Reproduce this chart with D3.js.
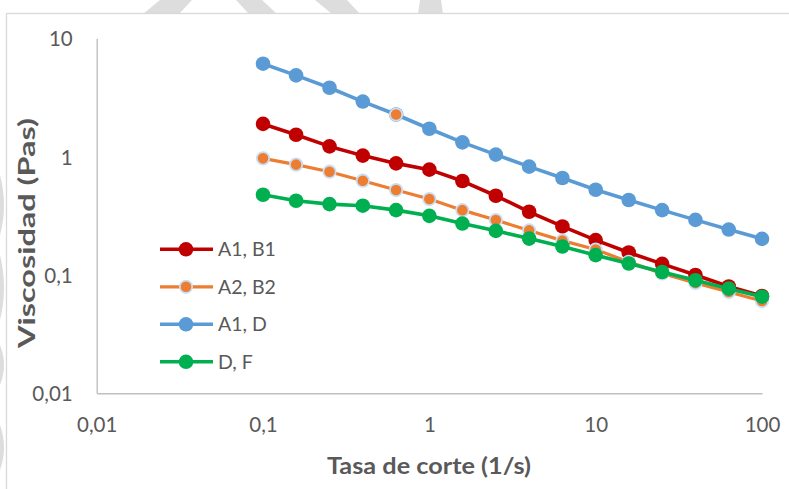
<!DOCTYPE html>
<html>
<head>
<meta charset="utf-8">
<script src="https://cdn.jsdelivr.net/npm/d3@7"></script>
<style>
  html, body { margin: 0; padding: 0; background: #ffffff; }
  svg { display: block; }
</style>
</head>
<body>
<svg id="chart" width="789" height="489"></svg>
<script>
// Shear rate (1/s) sampled five points per decade
const tasaCorte = [0.1, 0.158, 0.251, 0.398, 0.631, 1, 1.58, 2.51, 3.98, 6.31, 10, 15.8, 25.1, 39.8, 63.1, 100];

// Viscosity (Pa·s) for each formulation
const viscA1B1 = [1.89, 1.53, 1.22, 1.02, 0.877, 0.776, 0.622, 0.467, 0.342, 0.257, 0.197, 0.155, 0.124, 0.100, 0.0799, 0.0664];
const viscA2B2 = [0.967, 0.856, 0.746, 0.626, 0.522, 0.438, 0.353, 0.291, 0.238, 0.195, 0.164, 0.129, 0.103, 0.0856, 0.0718, 0.0602];
const viscA1D  = [6.10, 4.86, 3.82, 2.92, 2.27, 1.72, 1.32, 1.04, 0.823, 0.660, 0.525, 0.430, 0.353, 0.292, 0.242, 0.202];
const viscDF   = [0.476, 0.424, 0.397, 0.385, 0.353, 0.316, 0.272, 0.236, 0.203, 0.174, 0.147, 0.125, 0.106, 0.0902, 0.0766, 0.0655];

// A1, D point that carries an orange marker
const resaltadosA1D = [4];

const seriesNombres = ["A1, B1", "A2, B2", "A1, D", "D, F"];

// Axis ticks
const xTicks = [0.01, 0.1, 1, 10, 100];
const xTickLabels = ["0,01", "0,1", "1", "10", "100"];
const yTicks = [0.01, 0.1, 1, 10];
const yTickLabels = ["0,01", "0,1", "1", "10"];

const tituloX = "Tasa de corte (1/s)";
const tituloY = "Viscosidad (Pas)";

const series = [
  { nombre: seriesNombres[0], valores: viscA1B1, color: "#C00000", r: 7.3, ancho: 3.6, borde: null },
  { nombre: seriesNombres[1], valores: viscA2B2, color: "#ED7D31", r: 6.2, ancho: 3.2, borde: "#c9def2" },
  { nombre: seriesNombres[2], valores: viscA1D,  color: "#5B9BD5", r: 7.3, ancho: 3.6, borde: null },
  { nombre: seriesNombres[3], valores: viscDF,   color: "#00B050", r: 7.3, ancho: 3.6, borde: null }
];

const svg = d3.select("#chart");
const FONT = "Lato, 'Open Sans', sans-serif";
const GRIS_TEXTO = "#595959";

// Faint background stripes around the chart frame
const fondo = svg.append("g").attr("fill", "#dddddd");
[
  [[143, 14], [179, 14], [192, 0], [160, 0]],
  [[249, 14], [277, 14], [262, 0], [236, 0]],
  [[332, 14], [360, 14], [347, 0], [315, 0]],
  [[418, 14], [443, 14], [441, 0], [420, 0]]
].forEach(p => fondo.append("path").attr("d", d3.line()(p) + "Z"));
[[175, 235], [255, 320], [345, 385], [425, 470]].forEach(([a, b]) =>
  fondo.append("path").attr("d", `M0,${a} Q8,${(a + b) / 2} 0,${b} Z`)
);

// Chart frame
svg.append("rect")
  .attr("x", 6.5).attr("y", 13.5)
  .attr("width", 800).attr("height", 500)
  .attr("fill", "#ffffff")
  .attr("stroke", "#d9d9d9").attr("stroke-width", 1.3);

// Log scales
const x = d3.scaleLog().domain([0.01, 100]).range([96.7, 762]);
const y = d3.scaleLog().domain([0.01, 10]).range([393.3, 38.3]);

// Axes
const ejeX = svg.append("g")
  .attr("transform", `translate(0,${y(0.01)})`)
  .call(d3.axisBottom(x).tickValues(xTicks).tickSize(0)
    .tickFormat((d, i) => xTickLabels[i]));
const ejeY = svg.append("g")
  .attr("transform", `translate(${x(0.01)},0)`)
  .call(d3.axisLeft(y).tickValues(yTicks).tickSize(0)
    .tickFormat((d, i) => yTickLabels[i]));

[ejeX, ejeY].forEach(g => {
  g.select(".domain").attr("stroke", "#bfbfbf").attr("stroke-width", 1.4);
  g.selectAll("text")
    .attr("fill", GRIS_TEXTO)
    .style("font-family", FONT)
    .style("font-size", "20.5px");
});
ejeX.selectAll("text").attr("dy", null).attr("y", 0)
  .attr("transform", "translate(0,39)");
ejeY.selectAll("text").attr("x", -24).attr("dy", "0.36em");

// Axis titles
svg.append("text")
  .attr("x", 429).attr("y", 474)
  .attr("text-anchor", "middle")
  .attr("fill", GRIS_TEXTO)
  .style("font-family", FONT).style("font-weight", "bold").style("font-size", "23px")
  .attr("textLength", 204).attr("lengthAdjust", "spacingAndGlyphs")
  .text(tituloX);
svg.append("text")
  .attr("transform", "translate(35,233) rotate(-90)")
  .attr("text-anchor", "middle")
  .attr("fill", GRIS_TEXTO)
  .style("font-family", FONT).style("font-weight", "bold").style("font-size", "23px")
  .attr("textLength", 230).attr("lengthAdjust", "spacingAndGlyphs")
  .text(tituloY);

// Series lines and markers
const linea = d3.line()
  .x((d, i) => x(tasaCorte[i]))
  .y(d => y(d));

series.forEach((s, k) => {
  const g = svg.append("g");
  g.append("path")
    .datum(s.valores)
    .attr("d", linea)
    .attr("fill", "none")
    .attr("stroke", s.color)
    .attr("stroke-width", s.ancho)
    .attr("stroke-linejoin", "round");
  g.selectAll("circle")
    .data(s.valores)
    .join("circle")
    .attr("cx", (d, i) => x(tasaCorte[i]))
    .attr("cy", d => y(d))
    .attr("r", s.r)
    .attr("fill", s.color)
    .attr("stroke", s.borde || "none")
    .attr("stroke-width", s.borde ? 1.8 : 0);
  if (k === 2) {
    g.selectAll("circle.resaltado")
      .data(resaltadosA1D)
      .join("circle")
      .attr("class", "resaltado")
      .attr("cx", i => x(tasaCorte[i]))
      .attr("cy", i => y(viscA1D[i]))
      .attr("r", series[1].r)
      .attr("fill", series[1].color)
      .attr("stroke", series[1].borde)
      .attr("stroke-width", 1.8);
  }
});

// Legend
const leyenda = svg.append("g");
series.forEach((s, k) => {
  const yy = 249.3 + k * 37.5;
  leyenda.append("line")
    .attr("x1", 160).attr("x2", 213).attr("y1", yy).attr("y2", yy)
    .attr("stroke", s.color).attr("stroke-width", s.ancho);
  leyenda.append("circle")
    .attr("cx", 186).attr("cy", yy).attr("r", s.r)
    .attr("fill", s.color)
    .attr("stroke", s.borde || "none")
    .attr("stroke-width", s.borde ? 1.8 : 0);
  leyenda.append("text")
    .attr("x", 218).attr("y", yy).attr("dy", "0.36em")
    .attr("fill", GRIS_TEXTO)
    .style("font-family", FONT).style("font-size", "19.5px")
    .text(s.nombre);
});
</script>
</body>
</html>
